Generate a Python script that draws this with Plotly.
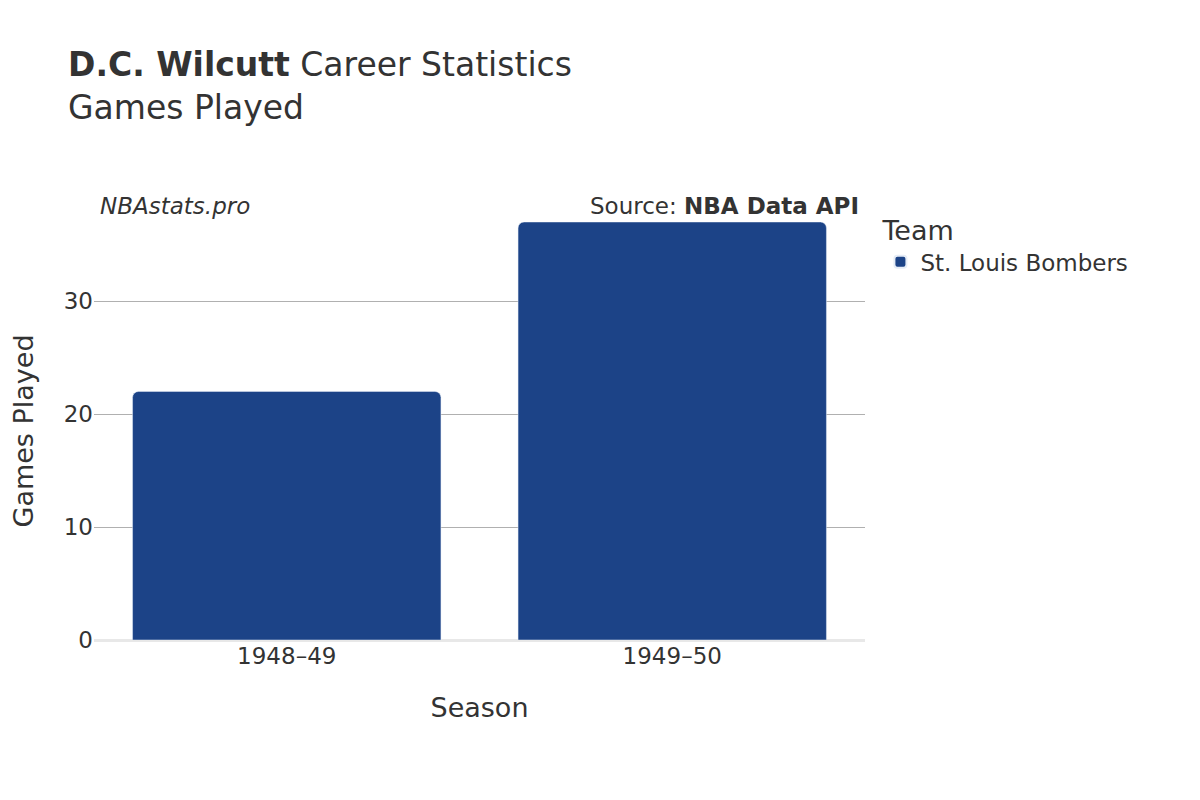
import plotly.graph_objects as go

seasons = ["1948–49", "1949–50"]
games = [22, 37]
team = "St. Louis Bombers"

fig = go.Figure()
fig.add_trace(go.Bar(x=seasons, y=games, name=team, marker=dict(color="#1c4387", cornerradius=6),
                     hovertemplate="%{y}<extra></extra>"))
fig.update_layout(
    width=1200, height=800,
    font=dict(family="DejaVu Sans", color="#333", size=22),
    plot_bgcolor="white", paper_bgcolor="white",
    margin=dict(l=84, r=343, t=214, b=168),
    bargap=0.2,
    title=dict(text="<b>D.C. Wilcutt</b> Career Statistics<br>Games Played", x=0.05, y=0.915, yanchor="top", xanchor="left", font=dict(size=33)),
    xaxis=dict(title=dict(text="Season", font=dict(size=27), standoff=30), tickfont=dict(size=23)),
    yaxis=dict(title=dict(text="Games Played", font=dict(size=27), standoff=25), tickfont=dict(size=23), range=[0, 37],
               gridcolor="#b0b0b0", zeroline=True, zerolinecolor="#e8e8e8", zerolinewidth=3, tickvals=[0, 10, 20, 30]),
    legend=dict(title=dict(text="Team", font=dict(size=27)), x=1.02, y=1.04, yanchor="top", font=dict(size=23),
                itemsizing="constant"),
    showlegend=True,
)
fig.add_annotation(text="<i>NBAstats.pro</i>", xref="paper", yref="paper", x=0.005, y=1.075, xanchor="left", showarrow=False, font=dict(size=23))
fig.add_annotation(text="Source: <b>NBA Data API</b>", xref="paper", yref="paper", x=0.995, y=1.075, xanchor="right", showarrow=False, font=dict(size=23))
fig.write_html("out.html")
